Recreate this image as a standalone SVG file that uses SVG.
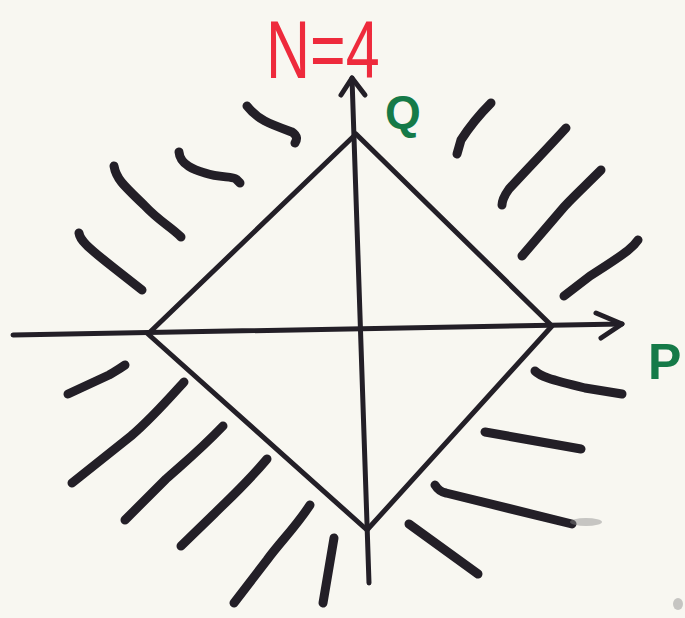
<svg xmlns="http://www.w3.org/2000/svg" width="685" height="618" viewBox="0 0 685 618">
<style>
.ln{fill:none;stroke:#231f27;stroke-linecap:round;stroke-linejoin:round}
.thin{stroke-width:5}
.hatch{stroke-width:9}
.red{fill:#ee2a3c;font-family:"Liberation Sans",Arial,sans-serif}
.grn{fill:#157a48;font-family:"Liberation Sans",Arial,sans-serif;font-weight:bold}
</style>
<rect width="685" height="618" fill="#f8f7f1"/>
<g id="diamond">
<polygon class="ln thin" points="356,134 552,326 367,530 148,334"/>
</g>
<g id="axes">
<path class="ln thin" d="M13,335 L622,324"/>
<path class="ln thin" d="M596,313 L622,324 L601,338"/>
<path class="ln thin" d="M369,583 L352,78"/>
<path class="ln thin" d="M341,95 L352,78 L365,95"/>
</g>
<g id="hatching">
<path class="ln hatch" d="M247,106 C258,120 270,124 292,132 C298,136 297,140 295,143"/>
<path class="ln hatch" d="M179,152 C180,165 195,170 205,173 C220,178 232,176 236,179 L240,183"/>
<path class="ln hatch" d="M114,166 C116,178 122,184 144,205 C160,222 170,226 181,237"/>
<path class="ln hatch" d="M79,233 C80,240 86,246 114,268 L142,290"/>
<path class="ln hatch" d="M491,103 C480,114 470,126 461,140 L457,154"/>
<path class="ln hatch" d="M566,128 C546,150 530,166 509,189 C504,196 502,202 502,205"/>
<path class="ln hatch" d="M601,170 C585,186 570,200 564,207 L522,256"/>
<path class="ln hatch" d="M638,240 C634,246 631,250 590,276 L564,296"/>
<path class="ln hatch" d="M535,371 C540,376 548,379 585,388 L622,394"/>
<path class="ln hatch" d="M485,432 L581,449"/>
<path class="ln hatch" d="M435,485 C438,490 441,492 446,493 L572,524"/>
<path class="ln hatch" d="M409,524 L478,574"/>
<path class="ln hatch" d="M125,365 C118,370 112,373 109,375 L68,394"/>
<path class="ln hatch" d="M184,382 C165,403 150,420 131,436 L72,483"/>
<path class="ln hatch" d="M223,426 C200,450 185,462 166,479 L125,520"/>
<path class="ln hatch" d="M267,459 C245,485 230,498 214,514 L181,546"/>
<path class="ln hatch" d="M310,505 C295,528 280,542 267,560 L234,603"/>
<path class="ln hatch" d="M334,538 L323,603"/>
</g>
<g id="smudge" fill="#8a8a8a" opacity="0.45">
<ellipse cx="586" cy="522" rx="16" ry="4"/>
<ellipse cx="678" cy="604" rx="5" ry="6"/>
</g>
<g id="labels">
<text class="red" transform="translate(266,78) scale(1,1.35)" font-size="61">N=4</text>
<text class="grn" x="385" y="128" font-size="46">Q</text>
<text class="grn" x="648" y="379" font-size="50">P</text>
</g>
</svg>
